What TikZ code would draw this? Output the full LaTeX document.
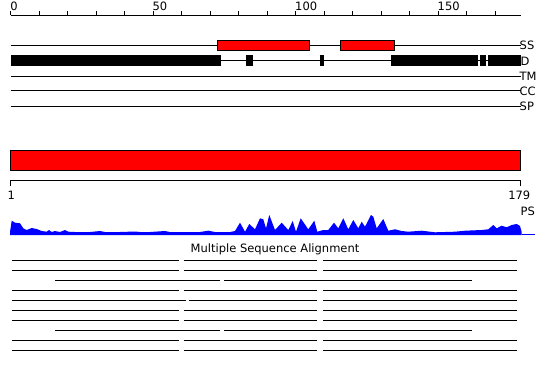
\documentclass[tikz,border=0pt]{standalone}
\usepackage{fontspec}
\setmainfont{DejaVu Sans}
\begin{document}
\begin{tikzpicture}[x=1pt,y=-1pt,
  lbl/.style={inner sep=0pt,font=\fontsize{11.5}{13}\selectfont},
  trk/.style={line width=1pt,black},
  redbox/.style={fill=red,draw=black,line width=1pt},
  blkbox/.style={fill=black,draw=none},
  msa/.style={line width=1pt,black}]
\useasboundingbox (0,0) rectangle (550,380);
% top ruler
\draw[trk] (10.7,15) -- (520.7,15);
\foreach \i in {0,10,...,170} {
  \draw[line width=1pt] ({10.7+2.85*\i},15) -- ({10.7+2.85*\i},11);
}
\node[lbl,anchor=base west] (r0) at (10.2,10.5) {0};
\node[lbl,anchor=base west] (r50) at (152.3,10.5) {50};
\node[lbl,anchor=base west] (r100) at (295,10.5) {100};
\node[lbl,anchor=base west] (r150) at (437.5,10.5) {150};
% tracks
\foreach \y in {45,60.7,76,90.7,106} {\draw[trk] (10.7,\y) -- (520.7,\y);}
\node[lbl,anchor=west] (ss) at (519.5,45.5) {SS};
\node[lbl,anchor=west] (dd) at (520.5,61) {D};
\node[lbl,anchor=west] (tm) at (519.5,76.5) {TM};
\node[lbl,anchor=west] (cc) at (519.5,91) {CC};
\node[lbl,anchor=west] (sp) at (519.5,106.5) {SP};
% SS boxes
\draw[redbox] (217.3,40.7) rectangle (309.3,50.7);
\draw[redbox] (340.7,40.7) rectangle (394.3,50.7);
% D boxes
\fill[blkbox] (10.7,55) rectangle (220.7,65.7);
\fill[blkbox] (246,55) rectangle (252.7,65.7);
\fill[blkbox] (320,55) rectangle (324,65.7);
\fill[blkbox] (391,55) rectangle (477.7,65.7);
\fill[blkbox] (480,55) rectangle (486,65.7);
\fill[blkbox] (488,55) rectangle (520.7,65.7);
% big red bar
\draw[redbox] (10.7,150.3) rectangle (520,170.5);
% bottom ruler
\draw[trk] (10.7,185.5) -- (10.7,180.7) -- (520.2,180.7) -- (520.2,185.5);
\node[lbl] (one) at (11.2,195.5) {1};
\node[lbl] (n179) at (519.3,195.5) {179};
\node[lbl,anchor=west] (ps) at (520.5,211.5) {PS};
% profile
\fill[blue] (10,235) -- (10,232) -- (11.7,220.7) -- (15,222.7) -- (20,223.3) -- (23.3,228.3) -- (26.7,230) -- (31.7,228) -- (36.7,229) -- (41.7,231) -- (46.7,231.7) -- (49,230) -- (51.7,232) -- (55,231) -- (60,232) -- (65,230) -- (68.3,231.7) -- (75,232) -- (90,232) -- (100,231) -- (105,232) -- (120,232) -- (135,231.5) -- (140,232) -- (150,232) -- (165,231) -- (170,232) -- (180,232) -- (200,232) -- (208.3,230.7) -- (215,232) -- (230,232) -- (235,231) -- (240,222.7) -- (245,231.7) -- (249.3,224) -- (255,229.3) -- (260,218.3) -- (263.3,219.3) -- (266,228.3) -- (269.3,215) -- (275,230) -- (281.7,222.7) -- (288.3,230) -- (292.7,221) -- (296,231.7) -- (300.7,218.3) -- (308.3,229.3) -- (314.3,220.7) -- (317.3,231.7) -- (323.3,230) -- (328.3,230) -- (334,222.7) -- (338.3,228.3) -- (343.3,218.3) -- (348.3,229.3) -- (353.3,220) -- (358.3,228.3) -- (361.7,221.7) -- (365,226.7) -- (371,215) -- (373.3,216.7) -- (376.7,228.3) -- (383.3,219) -- (388.3,230.7) -- (395,229.3) -- (401.7,231) -- (408.3,231.7) -- (421.7,230.7) -- (435,232.3) -- (455,231.7) -- (465,230.7) -- (481.7,230) -- (488.3,229.3) -- (493.3,225) -- (496.7,228.3) -- (501.7,225.7) -- (506.7,227.3) -- (511.7,225) -- (516.7,224) -- (520,226) -- (521.7,232) -- (521.7,235) -- cycle;
\draw[blue,line width=1pt] (521.7,234.5) -- (535,234.5);
% MSA
\node[lbl,anchor=base] (msat) at (275,252.5) {Multiple Sequence Alignment};
\foreach \y in {260.7,270.7,290.7,310.7,320.7,340.7,350.7} {
  \draw[msa] (12.3,\y) -- (179,\y);
  \draw[msa] (183.7,\y) -- (317.3,\y);
  \draw[msa] (323.3,\y) -- (517.3,\y);
}
\foreach \y in {280.7,330.7} {
  \draw[msa] (55,\y) -- (220,\y);
  \draw[msa] (224,\y) -- (471.7,\y);
}
\draw[msa] (12.3,300.7) -- (185.7,300.7);
\draw[msa] (189,300.7) -- (317.3,300.7);
\draw[msa] (323.3,300.7) -- (517.3,300.7);
\end{tikzpicture}
\end{document}
